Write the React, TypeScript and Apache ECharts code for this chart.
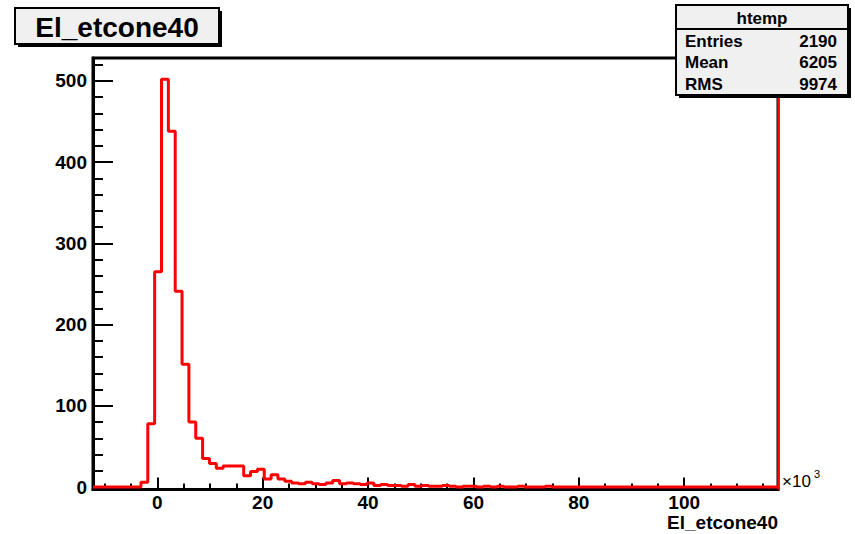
import React, { useEffect, useRef } from "react";
import * as echarts from "echarts";

const FONT = "'Liberation Sans', Arial, Helvetica, sans-serif";

// Histogram binning (x in units of 10^3)
const X_MIN = -12.2;
const BIN_WIDTH = 1.3;
const N_BINS = 100;
const X_MAX = X_MIN + BIN_WIDTH * N_BINS;

// Bin contents
const counts: number[] = [
  0, 0, 0, 0, 0, 0, 0, 6, 78, 265,
  502, 438, 241, 151, 80, 60, 35, 29, 23, 26,
  26, 26, 14, 19, 22, 10, 15, 10, 7, 5,
  4, 6, 4, 3, 5, 8, 4, 5, 4, 3,
  5, 2, 3, 2, 2, 1, 3, 1, 2, 1,
  1, 2, 1, 0, 1, 1, 0, 1, 0, 1,
  0, 0, 1, 0, 0, 0, 1, 0, 0, 0,
  0, 0, 0, 0, 0, 0, 0, 0, 0, 0,
  0, 0, 0, 0, 0, 0, 0, 0, 0, 0,
  0, 0, 0, 0, 0, 0, 0, 0, 0, 0,
];

const X_MAJOR = [0, 20, 40, 60, 80, 100];
const X_MINOR = [-10, -5, 5, 10, 15, 25, 30, 35, 45, 50, 55, 65, 70, 75, 85, 90, 95, 105, 110, 115];
const Y_MIN = -3;
const Y_MAX = 528;
const Y_MAJOR = [0, 100, 200, 300, 400, 500];
const Y_MINOR = [20, 40, 60, 80, 120, 140, 160, 180, 220, 240, 260, 280, 320, 340, 360, 380, 420, 440, 460, 480, 520];

const TITLE = "El_etcone40";
const STATS_NAME = "htemp";
const STATS_LABELS = ["Entries", "Mean", "RMS"];
const STATS_VALUES = ["2190", "6205", "9974"];

export default function App() {
  const ref = useRef<HTMLDivElement>(null);

  useEffect(() => {
    if (!ref.current) return;
    const chart = echarts.init(ref.current, null, { renderer: "svg" });

    const stepData: number[][] = counts.map((c, k) => [X_MIN + k * BIN_WIDTH, c]);
    stepData.push([X_MAX, counts[counts.length - 1]]);

    const labelStyle = { color: "#000", fontSize: 19, fontWeight: "bold" as const, fontFamily: FONT };

    const statsRows: any[] = [];
    STATS_LABELS.forEach((l, i) => {
      const y = 41 + i * 21.5;
      statsRows.push({ type: "text", x: 685, y, style: { text: l, fontSize: 17, fontWeight: "bold", fontFamily: FONT, fill: "#000", align: "left", verticalAlign: "middle" } });
      statsRows.push({ type: "text", x: 837, y, style: { text: STATS_VALUES[i], fontSize: 17, fontWeight: "bold", fontFamily: FONT, fill: "#000", align: "right", verticalAlign: "middle" } });
    });

    const option: any = {
      animation: false,
      backgroundColor: "#fff",
      grid: { left: 93, right: 77, top: 58, bottom: 44.5, show: true, borderColor: "#000", borderWidth: 3, containLabel: false },
      xAxis: [
        {
          type: "value", min: X_MIN, max: X_MAX, position: "bottom",
          axisLine: { show: true, onZero: false, lineStyle: { color: "#000", width: 3 } },
          axisTick: { show: true, inside: true, length: 12, customValues: X_MAJOR, lineStyle: { color: "#000", width: 2 } },
          axisLabel: { show: true, customValues: X_MAJOR, margin: 3, ...labelStyle },
          splitLine: { show: false },
        },
        {
          type: "value", min: X_MIN, max: X_MAX, position: "bottom",
          axisLine: { show: false, onZero: false },
          axisTick: { show: true, inside: true, length: 6, customValues: X_MINOR, lineStyle: { color: "#000", width: 2 } },
          axisLabel: { show: false }, splitLine: { show: false },
        },
      ],
      yAxis: [
        {
          type: "value", min: Y_MIN, max: Y_MAX, position: "left",
          axisLine: { show: true, onZero: false, lineStyle: { color: "#000", width: 3 } },
          axisTick: { show: true, inside: true, length: 20, customValues: Y_MAJOR, lineStyle: { color: "#000", width: 2 } },
          axisLabel: { show: true, customValues: Y_MAJOR, margin: 6, ...labelStyle },
          splitLine: { show: false },
        },
        {
          type: "value", min: Y_MIN, max: Y_MAX, position: "left",
          axisLine: { show: false, onZero: false },
          axisTick: { show: true, inside: true, length: 10, customValues: Y_MINOR, lineStyle: { color: "#000", width: 2 } },
          axisLabel: { show: false }, splitLine: { show: false },
        },
      ],
      series: [
        {
          type: "line", xAxisIndex: 0, yAxisIndex: 0, step: "end", symbol: "none", showSymbol: false,
          data: stepData, lineStyle: { color: "#ff0000", width: 3 }, z: 3,
          markLine: { silent: true, symbol: ["none", "none"], label: { show: false }, lineStyle: { color: "#ff0000", width: 2.5, type: "solid" }, data: [{ xAxis: X_MAX }] },
        },
      ],
      graphic: [
        { type: "rect", shape: { x: 18, y: 11, width: 204, height: 36 }, style: { fill: "#000" }, z: 10 },
        { type: "rect", shape: { x: 15, y: 8, width: 204, height: 36 }, style: { fill: "#f0f0f0", stroke: "#000", lineWidth: 2 }, z: 11 },
        { type: "text", x: 117, y: 27, z: 12, style: { text: TITLE, fontSize: 28, fontWeight: "bold", fontFamily: FONT, fill: "#000", align: "center", verticalAlign: "middle" } },
        { type: "rect", shape: { x: 679, y: 8, width: 172, height: 90 }, style: { fill: "#000" }, z: 10 },
        { type: "rect", shape: { x: 676, y: 5, width: 172, height: 90 }, style: { fill: "#f0f0f0", stroke: "#000", lineWidth: 2 }, z: 11 },
        { type: "line", shape: { x1: 676, y1: 29, x2: 848, y2: 29 }, style: { stroke: "#000", lineWidth: 2 }, z: 12 },
        { type: "text", x: 762, y: 18, z: 12, style: { text: STATS_NAME, fontSize: 17, fontWeight: "bold", fontFamily: FONT, fill: "#000", align: "center", verticalAlign: "middle" } },
        ...statsRows.map((r) => ({ ...r, z: 12 })),
        { type: "text", x: 782, y: 481, z: 12, style: { text: "×10", fontSize: 17, fontFamily: FONT, fill: "#000", align: "left", verticalAlign: "middle" } },
        { type: "text", x: 814, y: 474, z: 12, style: { text: "3", fontSize: 11, fontFamily: FONT, fill: "#000", align: "left", verticalAlign: "middle" } },
        { type: "text", x: 778, y: 522, z: 12, style: { text: TITLE, fontSize: 19, fontWeight: "bold", fontFamily: FONT, fill: "#000", align: "right", verticalAlign: "middle" } },
      ],
    };

    chart.setOption(option);
    return () => chart.dispose();
  }, []);

  return <div ref={ref} style={{ position: "absolute", left: 0, top: 0, width: 855, height: 534 }} />;
}
